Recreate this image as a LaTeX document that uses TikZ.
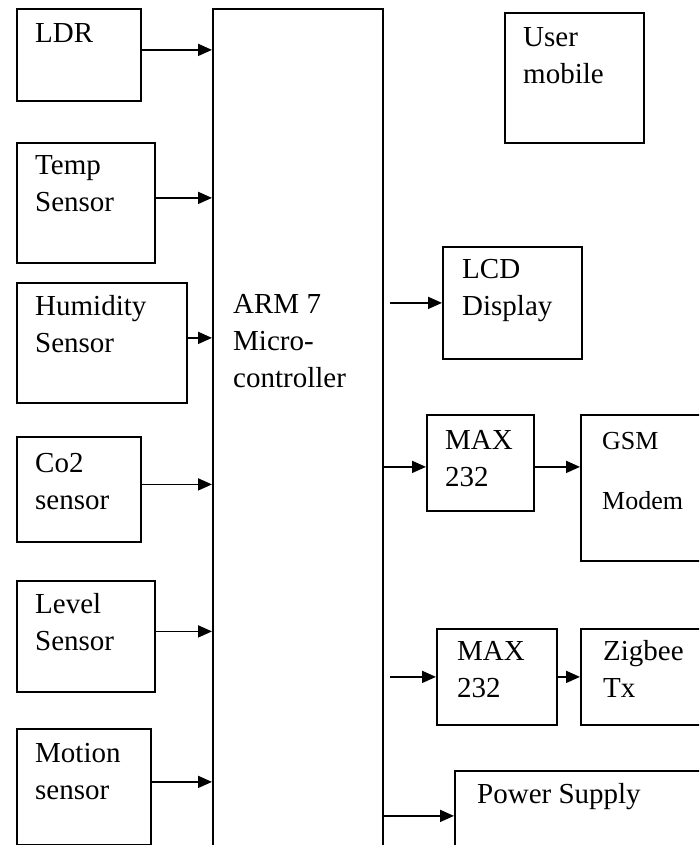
\documentclass[tikz,border=0pt]{standalone}
\usepackage{fontspec}
\setmainfont{Liberation Serif}
\usetikzlibrary{arrows.meta}
\newcommand\lns[1]{\begin{tabular}[t]{@{}l@{}}#1\end{tabular}}

\begin{document}
\begin{tikzpicture}[x=1pt,y=-1pt,
  blk/.style={draw,line width=1.8pt,anchor=north west,inner sep=0pt},
  txt/.style={anchor=base west,inner sep=0pt,font=\fontsize{29}{37}\selectfont},
  arr/.style={line width=1.8pt,-{Triangle[length=14pt,width=12pt]}}]
\useasboundingbox (0,0) rectangle (699,845);
\clip (0,0) rectangle (699,845);
% bloques de entrada
\node[blk,minimum width=124,minimum height=92]  (ldr)  at (16,8)   {};
\node[blk,minimum width=138,minimum height=120] (temp) at (16,142) {};
\node[blk,minimum width=170,minimum height=120] (hum)  at (16,282) {};
\node[blk,minimum width=124,minimum height=105] (co2)  at (16,436) {};
\node[blk,minimum width=138,minimum height=111] (lvl)  at (16,580) {};
\node[blk,minimum width=134,minimum height=116] (mot)  at (16,728) {};
% microcontrolador
\node[blk,minimum width=170,minimum height=860] (arm)  at (212,8)  {};
% bloques de salida
\node[blk,minimum width=139,minimum height=130] (usr)  at (504,12)  {};
\node[blk,minimum width=139,minimum height=112] (lcd)  at (442,246) {};
\node[blk,minimum width=107,minimum height=96]  (maxa) at (426,414) {};
\node[blk,minimum width=140,minimum height=146] (gsm)  at (580,414) {};
\node[blk,minimum width=120,minimum height=96]  (maxb) at (436,628) {};
\node[blk,minimum width=140,minimum height=96]  (zig)  at (580,628) {};
\node[blk,minimum width=270,minimum height=90]  (pwr)  at (454,770) {};
% textos
\node[txt] (tldr)  at ([xshift=19pt,yshift=-35pt]ldr.north west)  {LDR};
\node[txt] (ttemp) at ([xshift=19pt,yshift=-33pt]temp.north west) {\lns{Temp\\Sensor}};
\node[txt] (thum)  at ([xshift=19pt,yshift=-33pt]hum.north west)  {\lns{Humidity\\Sensor}};
\node[txt] (tco2)  at ([xshift=19pt,yshift=-36pt]co2.north west)  {\lns{Co2\\sensor}};
\node[txt] (tlvl)  at ([xshift=19pt,yshift=-33pt]lvl.north west)  {\lns{Level\\Sensor}};
\node[txt] (tmot)  at ([xshift=19pt,yshift=-34pt]mot.north west)  {\lns{Motion\\sensor}};
\node[txt] (tarm)  at ([xshift=21pt,yshift=-305pt]arm.north west) {\lns{ARM 7\\Micro-\\controller}};
\node[txt] (tusr)  at ([xshift=19pt,yshift=-35pt]usr.north west)  {\lns{User\\mobile}};
\node[txt] (tlcd)  at ([xshift=20pt,yshift=-32pt]lcd.north west)  {\lns{LCD\\Display}};
\node[txt] (tmaxa) at ([xshift=19pt,yshift=-35pt]maxa.north west) {\lns{MAX\\232}};
\node[txt,font=\fontsize{26}{60}\selectfont] (tgsm) at ([xshift=22pt,yshift=-35pt]gsm.north west) {\lns{GSM\\Modem}};
\node[txt] (tmaxb) at ([xshift=21pt,yshift=-32pt]maxb.north west) {\lns{MAX\\232}};
\node[txt] (tzig)  at ([xshift=23pt,yshift=-32pt]zig.north west)  {\lns{Zigbee\\Tx}};
\node[txt] (tpwr)  at ([xshift=23pt,yshift=-33pt]pwr.north west)  {Power Supply};
% flechas
\foreach \n in {ldr,temp,hum,co2,lvl,mot}
  \draw[arr] ([yshift=5pt]\n.east) -- ([yshift=5pt]\n.east -| arm.west);
\draw[arr] ([xshift=6pt]arm.east |- lcd.west) -- (lcd.west);
\draw[arr] ([yshift=-4pt]arm.east |- maxa.west) -- ([yshift=-4pt]maxa.west);
\draw[arr] ([yshift=-4pt]maxa.east) -- ([yshift=-4pt]maxa.east -| gsm.west);
\draw[arr] ([xshift=6pt]arm.east |- maxb.west) -- (maxb.west);
\draw[arr] (maxb.east) -- (zig.west);
\draw[arr] (arm.east |- pwr.west) -- (pwr.west);
\end{tikzpicture}
\end{document}
